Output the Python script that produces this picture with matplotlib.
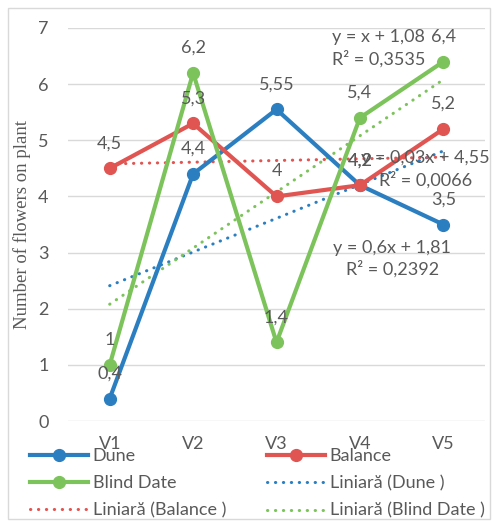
import matplotlib.pyplot as plt
import numpy as np
from matplotlib.patches import Rectangle

plt.rcParams['font.family'] = ['Lato', 'DejaVu Sans']

categories = ['V1', 'V2', 'V3', 'V4', 'V5']
dune = [0.4, 4.4, 5.55, 4.2, 3.5]
balance = [4.5, 5.3, 4, 4.2, 5.2]
blind_date = [1, 6.2, 1.4, 5.4, 6.4]

c_dune = '#2b7fc1'
c_bal = '#e05552'
c_blind = '#7dc35b'
txt = '#595959'
grid = '#d9d9d9'
fs = 13

fig = plt.figure(figsize=(4.93, 5.21), dpi=100)
fig.patches.append(Rectangle((8/493, 2/521), 482/493, 511/521, transform=fig.transFigure,
                             fill=False, edgecolor=grid, linewidth=1))
ax = fig.add_axes([68/493, 100/521, 417/493, 393/521])

x = np.arange(len(categories))
series = [('Dune', dune, c_dune), ('Balance', balance, c_bal), ('Blind Date', blind_date, c_blind)]

handles = {}
for name, vals, col in series:
    h, = ax.plot(x, vals, color=col, lw=3, marker='o', ms=8.5, label=name, zorder=3)
    handles[name] = h

# linear trendlines (Excel numbers points 1..n)
for name, vals, col in series:
    k, b = np.polyfit(x + 1, vals, 1)
    h, = ax.plot(x, k * (x + 1) + b, color=col, lw=2.2, ls=(0, (0.1, 2.5)),
                 dash_capstyle='round', label='Liniară (' + name + ' )', zorder=2)
    handles['Liniară (' + name + ' )'] = h

# data labels
for name, vals, col in series:
    for xi, v in zip(x, vals):
        ax.annotate(('%g' % v).replace('.', ','), (xi, v), xytext=(0, 18),
                    textcoords='offset points', ha='center', va='center',
                    fontsize=fs, color=txt, zorder=4)

# trendline equations
ax.text(3.22, 6.64, 'y = x + 1,08\nR² = 0,3535', ha='center', va='center',
        fontsize=fs, color=txt, linespacing=1.35)
ax.text(3.79, 4.48, 'y = 0,03x + 4,55\nR² = 0,0066', ha='center', va='center',
        fontsize=fs, color=txt, linespacing=1.35)
ax.text(3.39, 2.89, 'y = 0,6x + 1,81\nR² = 0,2392', ha='center', va='center',
        fontsize=fs, color=txt, linespacing=1.35)

ax.set_xlim(-0.5, 4.5)
ax.set_ylim(0, 7)
ax.set_xticks(x)
ax.set_xticklabels(categories)
ax.set_yticks(range(8))
ax.grid(axis='y', color=grid, lw=1)
ax.set_axisbelow(True)
for s in ax.spines.values():
    s.set_visible(False)
ax.tick_params(length=0, labelsize=fs, labelcolor=txt, pad=11)
ax.tick_params(axis='y', pad=14)
ax.set_ylabel('Number of flowers on plant', family='Liberation Serif', fontsize=13.5,
              color=txt)
ax.yaxis.set_label_coords(-0.088, 0.5)

order = ['Dune', 'Blind Date', 'Liniară (Balance )', 'Balance', 'Liniară (Dune )', 'Liniară (Blind Date )']
fig.legend([handles[n] for n in order], order, ncol=2, loc='upper left',
           bbox_to_anchor=(23/493, 1 - 441/521), frameon=False, fontsize=fs,
           handlelength=3.2, handletextpad=0.25, columnspacing=2.3,
           labelspacing=0.62, labelcolor=txt, borderaxespad=0)

fig.savefig('out.png', dpi=100)
